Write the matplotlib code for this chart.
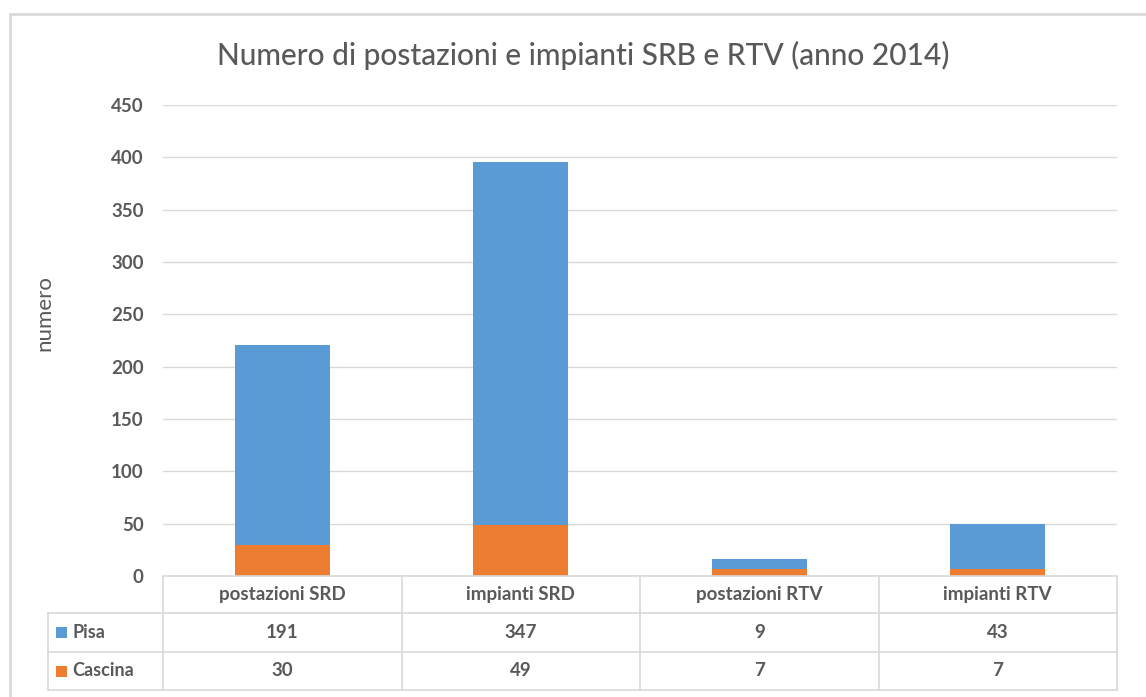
import matplotlib
matplotlib.use("Agg")
import matplotlib.pyplot as plt
from matplotlib.transforms import blended_transform_factory
from matplotlib.patches import Rectangle
from matplotlib.lines import Line2D

# Data
categories = ["postazioni SRD", "impianti SRD", "postazioni RTV", "impianti RTV"]
series_names = ["Pisa", "Cascina"]
pisa = [191, 347, 9, 43]
cascina = [30, 49, 7, 7]
yticks = [0, 50, 100, 150, 200, 250, 300, 350, 400, 450]

BLUE = "#5B9BD5"
ORANGE = "#ED7D31"
TEXT = "#595959"
GRID = "#D9D9D9"

plt.rcParams["font.family"] = ["Lato", "DejaVu Sans"]

W, H = 1146, 697
fig = plt.figure(figsize=(W / 100, H / 100), dpi=100)


def fx(x):
    return x / W


def fy(y):
    return 1 - y / H


# Outer chart frame
fig.add_artist(Rectangle((fx(10), fy(700)), fx(1150) - fx(10), fy(14) - fy(700),
                         transform=fig.transFigure, fill=False, edgecolor=GRID, lw=2))

left, right, top, bottom = 163, 1117, 105, 576
ax = fig.add_axes([fx(left), fy(bottom), fx(right) - fx(left), fy(top) - fy(bottom)])

x = list(range(len(categories)))
ax.bar(x, cascina, width=0.4, color=ORANGE, zorder=3)
ax.bar(x, pisa, width=0.4, bottom=cascina, color=BLUE, zorder=3)

ax.set_xlim(-0.5, len(categories) - 0.5)
ax.set_ylim(0, 450)
ax.set_yticks(yticks)
ax.set_xticks([])
ax.grid(axis="y", color=GRID, lw=1, zorder=0)
for s in ax.spines.values():
    s.set_visible(False)
ax.tick_params(axis="y", length=0, pad=14, labelsize=13.5, labelcolor=TEXT)
for lab in ax.get_yticklabels():
    lab.set_fontweight("bold")

fig.text(fx(44), fy(313), "numero", rotation=90, ha="center", va="center",
         fontsize=16, color=TEXT)

fig.text(fx(583), fy(55), "Numero di postazioni e impianti SRB e RTV (anno 2014)",
         ha="center", va="center", fontsize=21.5, fontweight="medium", color=TEXT)

# Data table below the axis
tr = blended_transform_factory(ax.transData, fig.transFigure)
row_y = [576, 613, 652, 690]
lw = 1.2
xmin, xmax = -0.5, len(categories) - 0.5

# horizontal lines
fig.add_artist(Line2D([xmin, xmax], [fy(row_y[0])] * 2, transform=tr, color=GRID, lw=lw))
for yy in row_y[1:]:
    fig.add_artist(Line2D([fx(48), fx(right)], [fy(yy)] * 2, transform=fig.transFigure,
                          color=GRID, lw=lw))
# vertical lines
for i in range(len(categories) + 1):
    fig.add_artist(Line2D([i - 0.5, i - 0.5], [fy(row_y[0]), fy(row_y[-1])], transform=tr,
                          color=GRID, lw=lw))
fig.add_artist(Line2D([fx(48), fx(48)], [fy(row_y[1]), fy(row_y[-1])],
                      transform=fig.transFigure, color=GRID, lw=lw))

# header text
for i, c in enumerate(categories):
    fig.text(i, fy((row_y[0] + row_y[1]) / 2), c, transform=tr, ha="center", va="center",
             fontsize=13.5, fontweight="bold", color=TEXT)

rows = [(series_names[0], pisa, BLUE), (series_names[1], cascina, ORANGE)]
for r, (name, vals, col) in enumerate(rows):
    yc = fy((row_y[r + 1] + row_y[r + 2]) / 2)
    fig.add_artist(Rectangle((fx(56), yc - 5.5 / H), 11 / W, 11 / H,
                             transform=fig.transFigure, color=col, lw=0))
    fig.text(fx(72), yc, name, ha="left", va="center", fontsize=13,
             fontweight="bold", color=TEXT)
    for i, v in enumerate(vals):
        fig.text(i, yc, str(v), transform=tr, ha="center", va="center",
                 fontsize=13.5, fontweight="bold", color=TEXT)

fig.savefig("out.png", dpi=100)
